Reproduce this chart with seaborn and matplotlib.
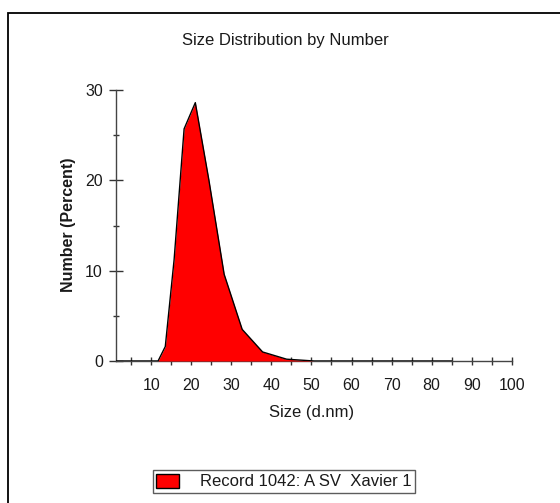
import matplotlib
matplotlib.use("Agg")
import matplotlib.pyplot as plt
import seaborn as sns
import pandas as pd
from matplotlib.patches import Rectangle, Patch

# Data
size_nm = [1.0, 11.7, 13.5, 15.7, 18.2, 21.0, 24.4, 28.2, 32.7, 37.8, 43.8, 50.7, 58.8, 68.1, 78.8, 85.0]
number_pct = [0.0, 0.0, 1.6, 11.2, 25.7, 28.6, 20.0, 9.6, 3.5, 1.0, 0.2, 0.0, 0.0, 0.0, 0.0, 0.0]
x_major = [10, 20, 30, 40, 50, 60, 70, 80, 90, 100]
x_minor = [5, 15, 25, 35, 45, 55, 65, 75, 85, 95]
y_major = [0, 10, 20, 30]
y_minor = [5, 15, 25]
title = "Size Distribution by Number"
xlabel = "Size (d.nm)"
ylabel = "Number (Percent)"
legend_label = "Record 1042: A SV  Xavier 1"

df = pd.DataFrame({"size": size_nm, "number": number_pct})

sns.set_style("white")
plt.rcParams["font.family"] = ["Liberation Sans", "DejaVu Sans"]

W, H = 560, 503
fig = plt.figure(figsize=(W / 100, H / 100), dpi=100)
ax = fig.add_axes([115.5 / W, 1 - 361 / H, (511.7 - 115.5) / W, (361 - 90) / H])

ax.fill_between(df["size"], df["number"], 0, color="#ff0000", linewidth=0, zorder=2)
sns.lineplot(data=df, x="size", y="number", color="black", linewidth=1.0, ax=ax, zorder=3)

ax.set_xlim(1.07, 100)
ax.set_ylim(0, 30)
ax.set_xticks(x_major)
ax.set_xticks(x_minor, minor=True)
ax.set_yticks(y_major)
ax.set_yticks(y_minor, minor=True)
ax.set_xlabel("")
ax.set_ylabel("")

for s in ["top", "right"]:
    ax.spines[s].set_visible(False)
for s in ["left", "bottom"]:
    ax.spines[s].set_visible(True)
    ax.spines[s].set_color("#444444")
    ax.spines[s].set_linewidth(1.0)
    ax.spines[s].set_zorder(1)

ax.tick_params(axis="x", which="both", bottom=True, direction="inout", length=6, width=1,
               color="#333333", labelsize=11.5, pad=9, labelcolor="#1a1a1a")
ax.tick_params(axis="y", which="major", left=True, direction="inout", length=10, width=1,
               color="#333333", labelsize=11.5, pad=4, labelcolor="#1a1a1a")
ax.tick_params(axis="y", which="minor", left=True, direction="inout", length=5, width=1,
               color="#333333")
ax.set_facecolor("white")

fig.text(285.5 / W, 1 - 40 / H, title, ha="center", va="center", fontsize=12, color="#1a1a1a")
fig.text(312 / W, 1 - 413 / H, xlabel, ha="center", va="center", fontsize=12, color="#1a1a1a")
fig.text(69 / W, 1 - 224.5 / H, ylabel, ha="center", va="center", rotation=90, fontsize=11.5,
         fontweight="bold", color="#1a1a1a")

# outer frame
fig.patches.append(Rectangle((8 / W, -0.1), 1.2, 1 - 13 / H + 0.1, transform=fig.transFigure,
                             fill=False, edgecolor="black", linewidth=1.3))

handle = Patch(facecolor="#ff0000", edgecolor="black", linewidth=1.0)
leg = fig.legend([handle], [legend_label], loc="center", bbox_to_anchor=(284 / W, 1 - 481.5 / H),
                 fontsize=12, frameon=True, fancybox=False, handlelength=1.38, handleheight=0.9,
                 handletextpad=1.25, borderpad=0.2, borderaxespad=0)
leg.get_frame().set_edgecolor("#333333")
leg.get_frame().set_linewidth(1.0)
for t in leg.get_texts():
    t.set_color("#1a1a1a")

fig.savefig("out.png", dpi=100, facecolor="white")
